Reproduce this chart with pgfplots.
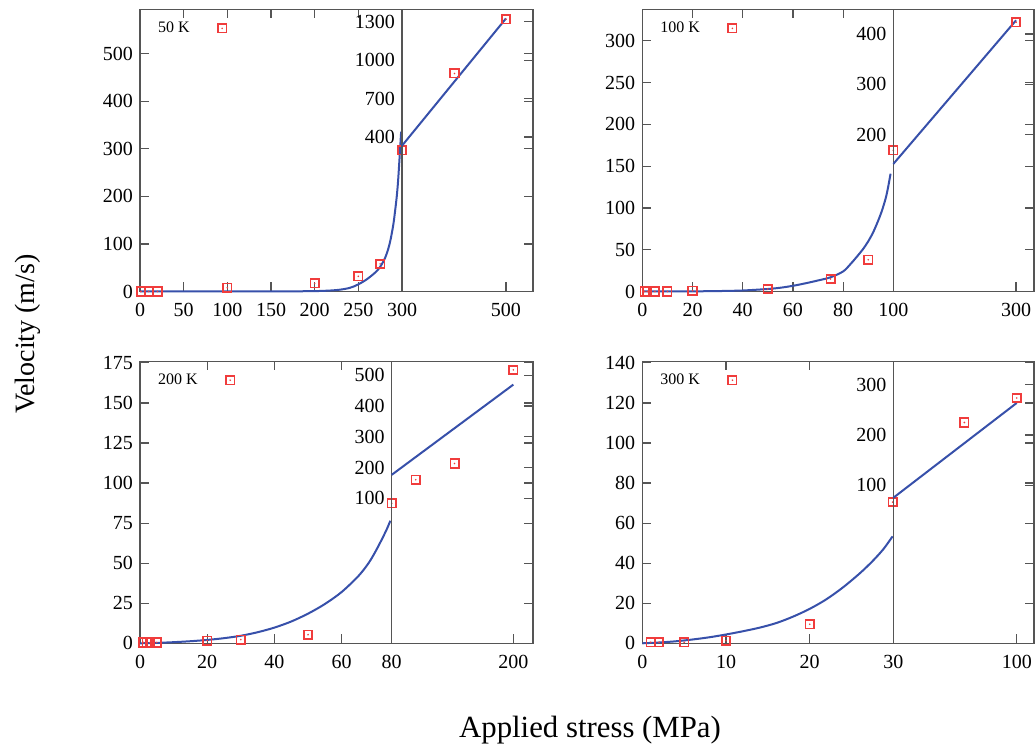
\documentclass[border=0pt]{standalone}
\usepackage{fontspec}
\setmainfont{Liberation Serif}
\usepackage{pgfplots}
\pgfplotsset{compat=1.18}
\definecolor{lblue}{RGB}{55,80,170}
\definecolor{mred}{RGB}{240,60,60}
\definecolor{frm}{RGB}{85,85,85}
\pgfdeclareplotmark{sqdot}{%
  \pgfpathrectangle{\pgfqpoint{-\pgfplotmarksize}{-\pgfplotmarksize}}{\pgfqpoint{2\pgfplotmarksize}{2\pgfplotmarksize}}%
  \pgfusepathqstroke
  \pgfpathcircle{\pgfpointorigin}{0.45pt}\pgfusepathqfill}
\pgfplotsset{
  base/.style={scale only axis, height=141pt, clip=false, anchor=south west,
    axis line style={frm, line width=0.6pt},
    every tick/.style={frm, line width=0.6pt},
    major tick length=4.5pt,
    tick label style={font=\fontsize{10}{12}\selectfont},
    xticklabel style={yshift=-2.5pt},
    /pgf/number format/assume math mode=true,
    /pgf/number format/1000 sep={},
    scaled ticks=false},
  leftax/.style={base, xmin=0, ymin=0, xtick pos=both, ytick pos=both,
    legend plot pos=right,
    legend style={draw=none, fill=none, at={(axis description cs:0.035,0.933)}, anchor=west,
      font=\fontsize{8}{9}\selectfont, inner sep=0pt}},
  rightax/.style={base, xtick pos=bottom, ytick pos=right, yticklabel pos=left},
  curve/.style={lblue, line width=1pt, smooth, no markers},
  pts/.style={mred, only marks, mark=sqdot, mark size=2.1pt, line width=0.85pt,
    legend image code/.code={\path[draw=none,fill=none] (0cm,0cm) -- (1cm,0cm); \draw[##1, only marks] plot coordinates {(0.5cm,0cm)};}},
}
\begin{document}
\begin{tikzpicture}
\useasboundingbox (0,0) rectangle (518pt,374pt);
% ---------- 50 K ----------
\begin{axis}[leftax, at={(70pt,228.25pt)}, width=196.5pt, xmax=450, ymax=593,
  xtick={0,50,100,150,200,250,300}, ytick={0,100,200,300,400,500}]
\addplot[curve, forget plot] coordinates {(0,0)(50,0)(100,0.05)(150,0.2)(200,0.8)(225,3)(240,7.5)(250,15)(260,26)(270,41)(275,52)(280,68)(284,88)(287,110)(290,140)(292,168)(294,200)(295.5,232)(297,275)(298,305)(299,336)};
\addplot[pts] coordinates {(1,0)(10,0)(20,0)(100,8)(200,17)(250,32)(275,58)(300,297)};
\addlegendentry{50 K}
\end{axis}
\begin{axis}[rightax, at={(201pt,228.25pt)}, width=65.5pt, xmin=300, xmax=552, ymin=-808, ymax=1397,
  xtick={500}, ytick={400,700,1000,1300}]
\addplot[lblue, line width=1pt] coordinates {(300,332)(500,1327)};
\addplot[pts] coordinates {(401,897)(500,1321)};
\end{axis}
% ---------- 100 K ----------
\begin{axis}[leftax, at={(321.15pt,228.25pt)}, width=195.85pt, xmax=156.06, ymax=337.6,
  xtick={0,20,40,60,80,100}, ytick={0,50,100,150,200,250,300}]
\addplot[curve, forget plot] coordinates {(0,0)(20,0.2)(30,0.5)(40,1.2)(50,3)(55,4.5)(60,6.8)(65,9.8)(70,13.2)(75,17)(80,24)(83,33)(86,43.5)(88,51)(90,60)(92,71)(94,85)(95.5,97)(97,112)(98,126)(98.9,141)};
\addplot[pts] coordinates {(1,0)(2,0)(5,0)(10,0)(20,1)(50,3)(75,15)(90,38)(100,169)};
\addlegendentry{100 K}
\end{axis}
\begin{axis}[rightax, at={(446.65pt,228.25pt)}, width=70.35pt, xmin=100, xmax=329.3, ymin=-111, ymax=448.5,
  xtick={300}, ytick={200,300,400}]
\addplot[lblue, line width=1pt] coordinates {(100,142)(300,427)};
\addplot[pts] coordinates {(300,423)};
\end{axis}
% ---------- 200 K ----------
\begin{axis}[leftax, at={(70pt,52.35pt)}, width=196.5pt, xmax=116.95, ymax=176,
  xtick={0,20,40,60}, ytick={0,25,50,75,100,125,150,175}]
\addplot[curve, forget plot] coordinates {(0,0)(5,0.25)(10,0.7)(15,1.3)(20,2.1)(25,3.2)(30,4.7)(35,6.9)(40,9.8)(45,13.6)(50,18.5)(55,24.5)(60,32)(65,42)(68,50)(70,57)(72,65)(73.5,71.5)(74.5,76.5)};
\addplot[pts] coordinates {(1,0.5)(2,0.5)(3,0.5)(5,0.5)(20,1.7)(30,2.3)(50,5.4)(74.9,87.4)};
\addlegendentry{200 K}
\end{axis}
\begin{axis}[rightax, at={(195.85pt,52.35pt)}, width=70.65pt, xmin=80, xmax=219.4, ymin=-373, ymax=546,
  xtick={80,200}, ytick={100,200,300,400,500}]
\addplot[lblue, line width=1pt] coordinates {(80,176)(200,470)};
\addplot[pts] coordinates {(103.7,160)(142,213)(200,518)};
\end{axis}
% ---------- 300 K ----------
\begin{axis}[leftax, at={(321.15pt,52.35pt)}, width=195.85pt, xmax=46.8, ymax=140.8,
  xtick={0,10,20,30}, ytick={0,20,40,60,80,100,120,140}]
\addplot[curve, forget plot] coordinates {(0,0)(2,0.4)(4,1)(6,1.9)(8,3)(10,4.4)(12,6)(14,7.8)(16,10.1)(18,13.3)(20,17.2)(22,22)(24,28)(26,35)(27.5,41)(28.8,47)(29.9,53.4)};
\addplot[pts] coordinates {(1,0.5)(2,0.5)(5,0.5)(10,1.3)(20,9.5)(29.9,70.5)};
\addlegendentry{300 K}
\end{axis}
\begin{axis}[rightax, at={(446.65pt,52.35pt)}, width=70.35pt, xmin=30, xmax=109.8, ymin=-215, ymax=347,
  xtick={100}, ytick={100,200,300}]
\addplot[lblue, line width=1pt] coordinates {(30,75)(100,264)};
\addplot[pts] coordinates {(70.3,225)(100,274)};
\end{axis}
% ---------- labels ----------
\node[rotate=90, font=\fontsize{14}{16}\selectfont] at (14pt,207pt) {Velocity (m/s)};
\node[font=\fontsize{15.4}{18}\selectfont] at (295pt,9pt) {Applied stress (MPa)};
\end{tikzpicture}
\end{document}
